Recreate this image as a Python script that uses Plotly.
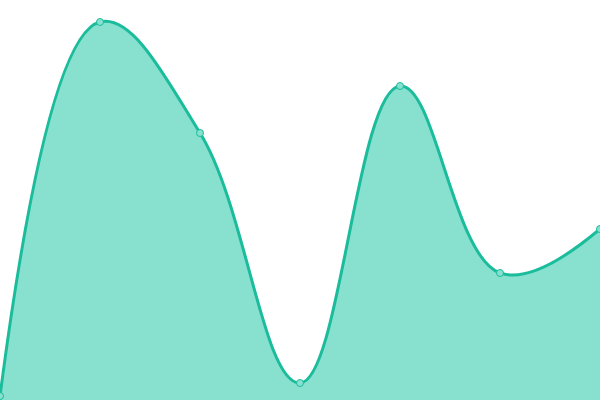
import plotly.graph_objects as go

x_vals = [0, 1, 2, 3, 4, 5, 6]
y_vals = [4, 378, 267, 17, 314, 127, 171]

fig = go.Figure()
fig.add_trace(go.Scatter(
    x=x_vals, y=y_vals, mode="lines+markers",
    line=dict(color="#1abc9c", width=3, shape="spline", smoothing=1.15),
    fill="tozeroy", fillcolor="#88e0cf",
    marker=dict(size=7, color="#88e0cf", line=dict(color="#1abc9c", width=1)),
    hoverinfo="skip", cliponaxis=False,
))
fig.update_layout(
    width=600, height=400, margin=dict(l=0, r=0, t=0, b=0),
    paper_bgcolor="white", plot_bgcolor="white", showlegend=False,
    xaxis=dict(range=[0, 6], visible=False, fixedrange=True),
    yaxis=dict(range=[0, 400], visible=False, fixedrange=True),
)
fig.write_html("out.html", config={"displayModeBar": False},
               post_script="document.body.style.margin='0';document.body.style.overflow='hidden';")
